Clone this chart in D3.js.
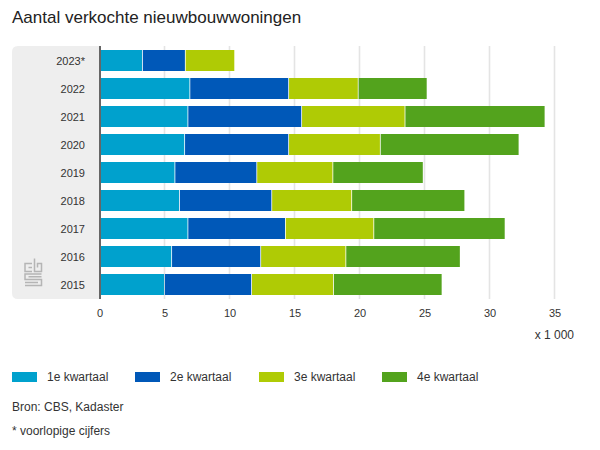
<!DOCTYPE html>
<html>
<head>
<meta charset="utf-8">
<script src="https://cdn.jsdelivr.net/npm/d3@7"></script>
<style>
  html, body { margin: 0; padding: 0; background: #fff; }
  svg { display: block; }
  text { font-family: "Liberation Sans", Arial, sans-serif; }
</style>
</head>
<body>
<div id="wrapper"></div>
<script>
// the data
const years = ["2023*", "2022", "2021", "2020", "2019", "2018", "2017", "2016", "2015"]
const quarters = ["1e kwartaal", "2e kwartaal", "3e kwartaal", "4e kwartaal"]
const q1 = [3.3, 6.95, 6.8, 6.55, 5.8, 6.15, 6.8, 5.55, 5.0]
const q2 = [3.3, 7.6, 8.75, 8.0, 6.3, 7.1, 7.5, 6.85, 6.7]
const q3 = [3.8, 5.35, 7.95, 7.05, 5.85, 6.15, 6.8, 6.55, 6.3]
const q4 = [0, 5.3, 10.77, 10.67, 6.95, 8.7, 10.1, 8.8, 8.35]
const xTicks = [0, 5, 10, 15, 20, 25, 30, 35]
const colors = ["#00a1cd", "#0058b8", "#afcb05", "#53a31d"]

const dims = { width: 600, height: 450 }

const svg = d3.select("#wrapper")
  .append("svg")
    .attr("width", dims.width)
    .attr("height", dims.height)

// scales
const xScale = d3.scaleLinear().domain([0, 35]).range([99.5, 554.5])
const yScale = d3.scaleBand().domain(years).range([46.5, 298.5])
    .paddingInner(0.25)
    .paddingOuter(0.125)

// title
svg.append("text")
    .attr("x", 12)
    .attr("y", 23)
    .attr("font-size", 17)
    .attr("fill", "#222")
    .text("Aantal verkochte nieuwbouwwoningen")

// grey panel behind the year labels
svg.append("path")
    .attr("d", "M100,46 H18 Q12,46 12,52 V293 Q12,299 18,299 H100 Z")
    .attr("fill", "#eeeeee")

// logo in the panel
const logo = svg.append("g")
    .attr("fill", "none")
    .attr("stroke", "#b5b5b5")
    .attr("stroke-width", 1.5)
logo.append("path").attr("d", "M32,263.5 H25 V271.5 H32")
logo.append("path").attr("d", "M32,267.5 H28.5")
logo.append("path").attr("d", "M34.5,258.5 V271.5 H41.5 V263.5 H37.5 V267.5")
logo.append("path").attr("d", "M41.5,274 H25 V279.5 H41.5 V285.5 H25")
logo.append("path").attr("d", "M28.5,276.8 H41.5 M25,282.5 H38")

// gridlines
svg.append("g")
  .selectAll("line")
  .data(xTicks.slice(1))
  .join("line")
    .attr("x1", xScale)
    .attr("x2", xScale)
    .attr("y1", 46)
    .attr("y2", 299)
    .attr("stroke", "#e4e4e4")
    .attr("stroke-width", 1.6)

// stacked bars
const rows = years.map((year, i) => ({ year, 0: q1[i], 1: q2[i], 2: q3[i], 3: q4[i] }))
const series = d3.stack().keys([0, 1, 2, 3])(rows)

svg.append("g")
  .selectAll("g")
  .data(series)
  .join("g")
    .attr("fill", (d, i) => colors[i])
  .selectAll("rect")
  .data(d => d.filter(p => p[1] > p[0]))
  .join("rect")
    .attr("x", d => xScale(d[0]) + 0.4)
    .attr("y", d => yScale(d.data.year))
    .attr("width", d => xScale(d[1]) - xScale(d[0]) - 0.8)
    .attr("height", yScale.bandwidth())

// axes
const xAxis = svg.append("g")
    .attr("transform", "translate(0,299)")
    .call(d3.axisBottom(xScale).tickValues(xTicks).tickSize(0).tickPadding(10))
xAxis.select(".domain").remove()
xAxis.selectAll("text")
    .attr("font-size", 11)
    .attr("fill", "#333")

const yAxis = svg.append("g")
    .attr("transform", "translate(85,1)")
    .call(d3.axisLeft(yScale).tickSize(0).tickPadding(0))
yAxis.select(".domain").remove()
yAxis.selectAll("text")
    .attr("font-size", 11)
    .attr("fill", "#333")

svg.append("line")
    .attr("x1", xScale(0) + 0.5)
    .attr("x2", xScale(0) + 0.5)
    .attr("y1", 46)
    .attr("y2", 299)
    .attr("stroke", "#666")
    .attr("stroke-width", 2)

svg.append("text")
    .attr("x", 574)
    .attr("y", 339)
    .attr("text-anchor", "end")
    .attr("font-size", 12)
    .attr("fill", "#333")
    .text("x 1 000")

// legend
const legendX = [12, 135, 259, 382]
const legend = svg.append("g")
  .selectAll("g")
  .data(quarters)
  .join("g")
    .attr("transform", (d, i) => `translate(${legendX[i]},372)`)
legend.append("rect")
    .attr("width", 25)
    .attr("height", 10)
    .attr("fill", (d, i) => colors[i])
legend.append("text")
    .attr("x", 35)
    .attr("y", 9)
    .attr("font-size", 12)
    .attr("fill", "#333")
    .text(d => d)

// footnotes
svg.append("text")
    .attr("x", 12)
    .attr("y", 411)
    .attr("font-size", 12)
    .attr("fill", "#333")
    .text("Bron: CBS, Kadaster")
svg.append("text")
    .attr("x", 12)
    .attr("y", 435)
    .attr("font-size", 12)
    .attr("fill", "#333")
    .text("* voorlopige cijfers")
</script>
</body>
</html>
